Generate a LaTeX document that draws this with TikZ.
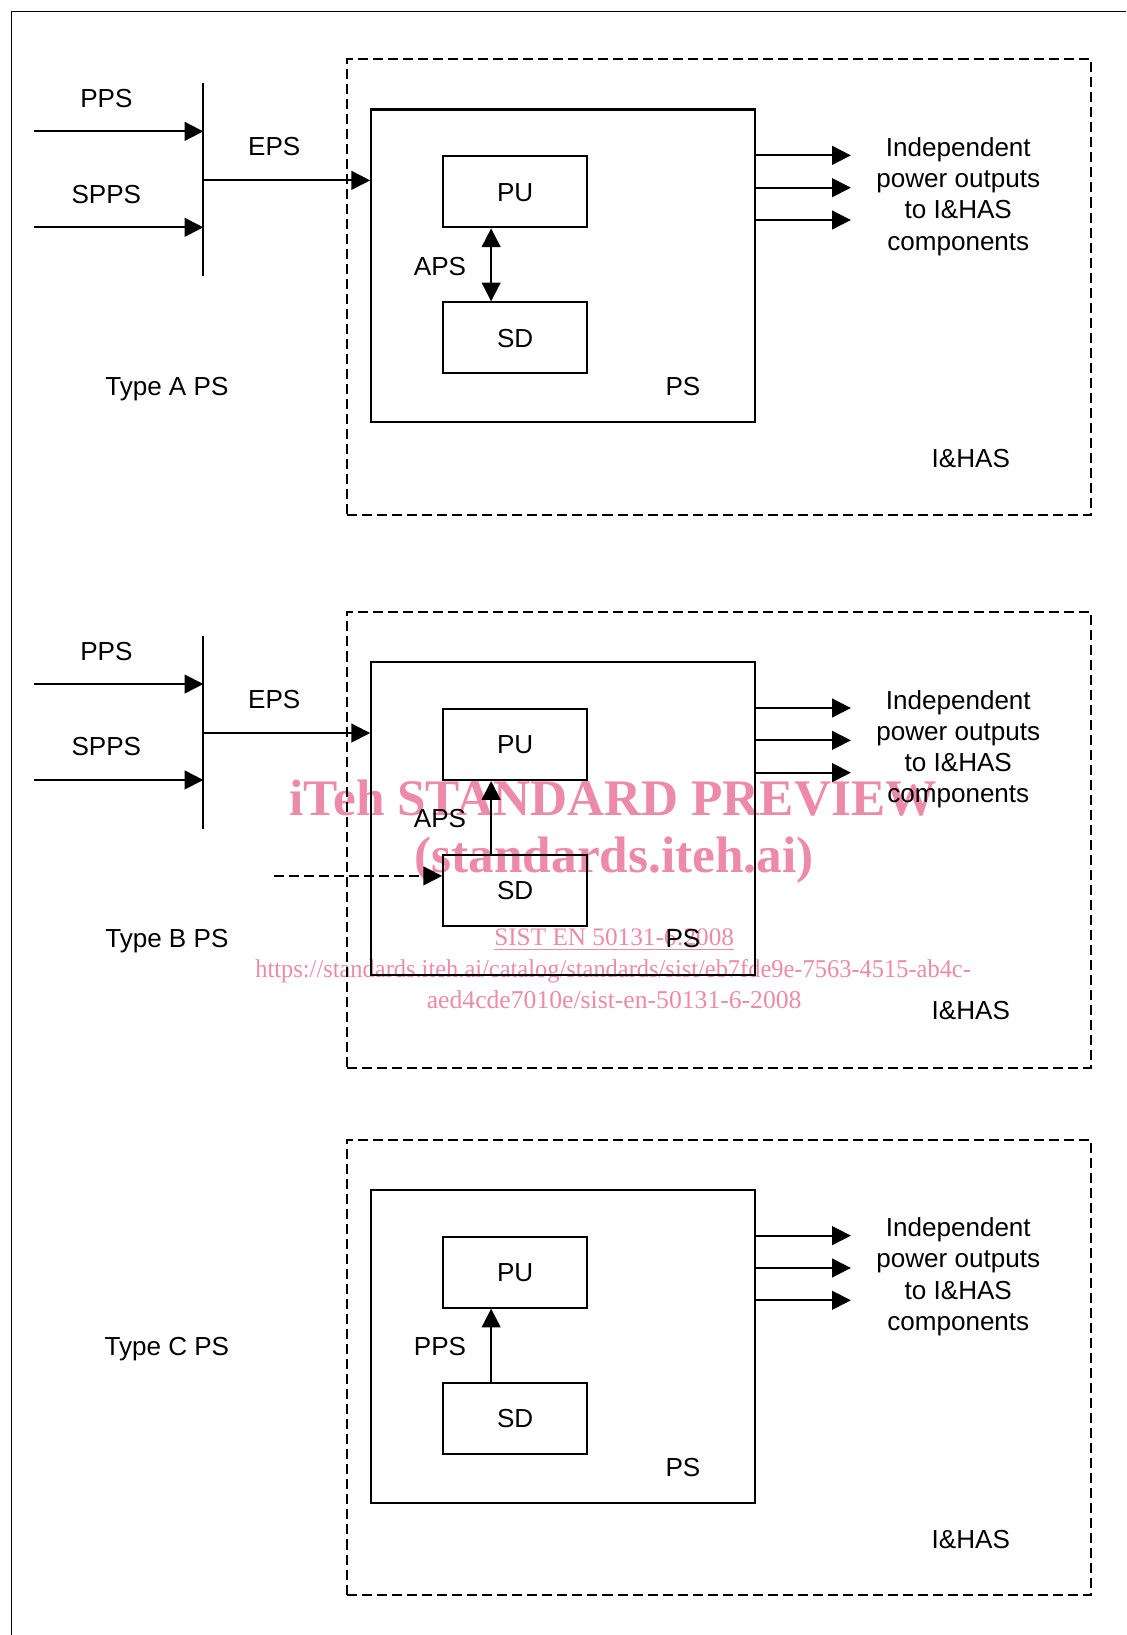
\documentclass[tikz,border=0pt]{standalone}
\usepackage{fontspec}
\setmainfont{Liberation Sans}
\newfontfamily\wmfont{Liberation Serif}
\usepackage{tikz}
\usetikzlibrary{arrows.meta,positioning}
\definecolor{wmpink}{RGB}{236,138,168}

\tikzset{
  blk/.style={rectangle, draw, line width=1pt, minimum width=69pt, minimum height=34pt, text height=9pt, text depth=0pt},
  psbox/.style={rectangle, draw, line width=1pt, minimum width=184pt, minimum height=150pt},
  ihasbox/.style={rectangle, draw, dash pattern=on 4.8pt off 2.4pt, line width=0.9pt, minimum width=356.5pt, minimum height=218.5pt},
  lbl/.style={text height=9pt, text depth=0pt, inner sep=0pt},
  pwr/.style={-{Triangle[length=9pt,width=9pt]}, line width=0.9pt},
  pwrboth/.style={{Triangle[length=9pt,width=9pt]}-{Triangle[length=9pt,width=9pt]}, line width=0.9pt},
  wm/.style={wmpink, inner sep=0pt, anchor=base},
}

\begin{document}
\begin{tikzpicture}[x=0.5pt, y=-0.5pt, font=\fontsize{12.5}{15}\selectfont]
    \useasboundingbox (0,0) rectangle (1080,1568);

    \node (wm1) [wm, font=\fontsize{24.6}{28}\selectfont\wmfont\bfseries] at (588,782) {iTeh STANDARD PREVIEW};
    \node (wm2) [wm, font=\fontsize{24.6}{28}\selectfont\wmfont\bfseries] at (589,837) {(standards.iteh.ai)};
    \node (wm3) [wm, font=\fontsize{12.1}{15}\selectfont\wmfont] at (589,907) {\underline{SIST EN 50131-6:2008}};
    \node (wm4) [wm, font=\fontsize{12.3}{15}\selectfont\wmfont] at (588,937) {\scalebox{0.953}[1]{https://standards.iteh.ai/catalog/standards/sist/eb7fde9e-7563-4515-ab4c-}};
    \node (wm5) [wm, font=\fontsize{12.3}{15}\selectfont\wmfont] at (589,967) {aed4cde7010e/sist-en-50131-6-2008};

    \draw[line width=0.9pt] (11,1568) -- (11,11) -- (1080,11);

    % Type A
    \node (ihasA) [ihasbox] at (689.5,275.5) {};
    \node (psA) [psbox] at (540,255) {};
    \node (puA) [blk] at (494,184) {PU};
    \node (sdA) [blk, below=35pt of puA] {SD};
    \node (apsA) [lbl] at (422,255) {APS};
    \node (pslblA) [lbl] at (655,370) {PS};
    \node (ihaslblA) [lbl] at (931,439) {I\&HAS};
    \node (outtxtA) [align=center, inner sep=0pt] at (919,188.5) {Independent\\power outputs\\to I\&HAS\\components};
    \node (typeA) [lbl] at (160,370) {Type A PS};
    \node (ppslblA) [lbl] at (102,94) {PPS};
    \node (sppslblA) [lbl] at (102,186) {SPPS};
    \node (epslblA) [lbl] at (263,140) {EPS};
    \coordinate (barA1) at (195,80);
    \coordinate (barA2) at (195,265);
    \coordinate (ppsA) at (33,126);
    \coordinate (sppsA) at (33,218);
    \coordinate (epsA) at (195,173);
    \coordinate (outA1) at (816,149);
    \coordinate (outA2) at (816,180);
    \coordinate (outA3) at (816,211);

    \draw[line width=0.9pt] (barA1) -- (barA2);
    \draw[pwr] (ppsA) -- (ppsA -| barA1);
    \draw[pwr] (sppsA) -- (sppsA -| barA1);
    \draw[pwr] (epsA) -- (epsA -| psA.west);
    \draw[pwrboth] ([xshift=-11.5pt]puA.south) -- ([xshift=-11.5pt]sdA.north);
    \draw[pwr] (outA1 -| psA.east) -- (outA1);
    \draw[pwr] (outA2 -| psA.east) -- (outA2);
    \draw[pwr] (outA3 -| psA.east) -- (outA3);

    % Type B
    \node (ihasB) [ihasbox] at (689.5,805.5) {};
    \node (psB) [psbox] at (540,785) {};
    \node (puB) [blk] at (494,714) {PU};
    \node (sdB) [blk, below=35pt of puB] {SD};
    \node (apsB) [lbl] at (422,785) {APS};
    \node (pslblB) [lbl] at (655,900) {PS};
    \node (ihaslblB) [lbl] at (931,969) {I\&HAS};
    \node (outtxtB) [align=center, inner sep=0pt] at (919,718.5) {Independent\\power outputs\\to I\&HAS\\components};
    \node (typeB) [lbl] at (160,900) {Type B PS};
    \node (ppslblB) [lbl] at (102,624) {PPS};
    \node (sppslblB) [lbl] at (102,716) {SPPS};
    \node (epslblB) [lbl] at (263,670) {EPS};
    \coordinate (barB1) at (195,610);
    \coordinate (barB2) at (195,795);
    \coordinate (ppsB) at (33,656);
    \coordinate (sppsB) at (33,748);
    \coordinate (epsB) at (195,703);
    \coordinate (sigB) at (263,840);
    \coordinate (outB1) at (816,679);
    \coordinate (outB2) at (816,710);
    \coordinate (outB3) at (816,741);

    \draw[line width=0.9pt] (barB1) -- (barB2);
    \draw[pwr] (ppsB) -- (ppsB -| barB1);
    \draw[pwr] (sppsB) -- (sppsB -| barB1);
    \draw[pwr] (epsB) -- (epsB -| psB.west);
    \draw[pwr] ([xshift=-11.5pt]sdB.north) -- ([xshift=-11.5pt]puB.south);
    \draw[pwr, dash pattern=on 4.8pt off 2.4pt] (sigB) -- (sigB -| sdB.west);
    \draw[pwr] (outB1 -| psB.east) -- (outB1);
    \draw[pwr] (outB2 -| psB.east) -- (outB2);
    \draw[pwr] (outB3 -| psB.east) -- (outB3);

    % Type C
    \node (ihasC) [ihasbox] at (689.5,1311.5) {};
    \node (psC) [psbox] at (540,1291) {};
    \node (puC) [blk] at (494,1220) {PU};
    \node (sdC) [blk, below=35pt of puC] {SD};
    \node (ppslblC) [lbl] at (422,1291) {PPS};
    \node (pslblC) [lbl] at (655,1407) {PS};
    \node (ihaslblC) [lbl] at (931,1476) {I\&HAS};
    \node (outtxtC) [align=center, inner sep=0pt] at (919,1224.5) {Independent\\power outputs\\to I\&HAS\\components};
    \node (typeC) [lbl] at (160,1291) {Type C PS};
    \coordinate (outC1) at (816,1185);
    \coordinate (outC2) at (816,1216);
    \coordinate (outC3) at (816,1247);

    \draw[pwr] ([xshift=-11.5pt]sdC.north) -- ([xshift=-11.5pt]puC.south);
    \draw[pwr] (outC1 -| psC.east) -- (outC1);
    \draw[pwr] (outC2 -| psC.east) -- (outC2);
    \draw[pwr] (outC3 -| psC.east) -- (outC3);
\end{tikzpicture}
\end{document}
